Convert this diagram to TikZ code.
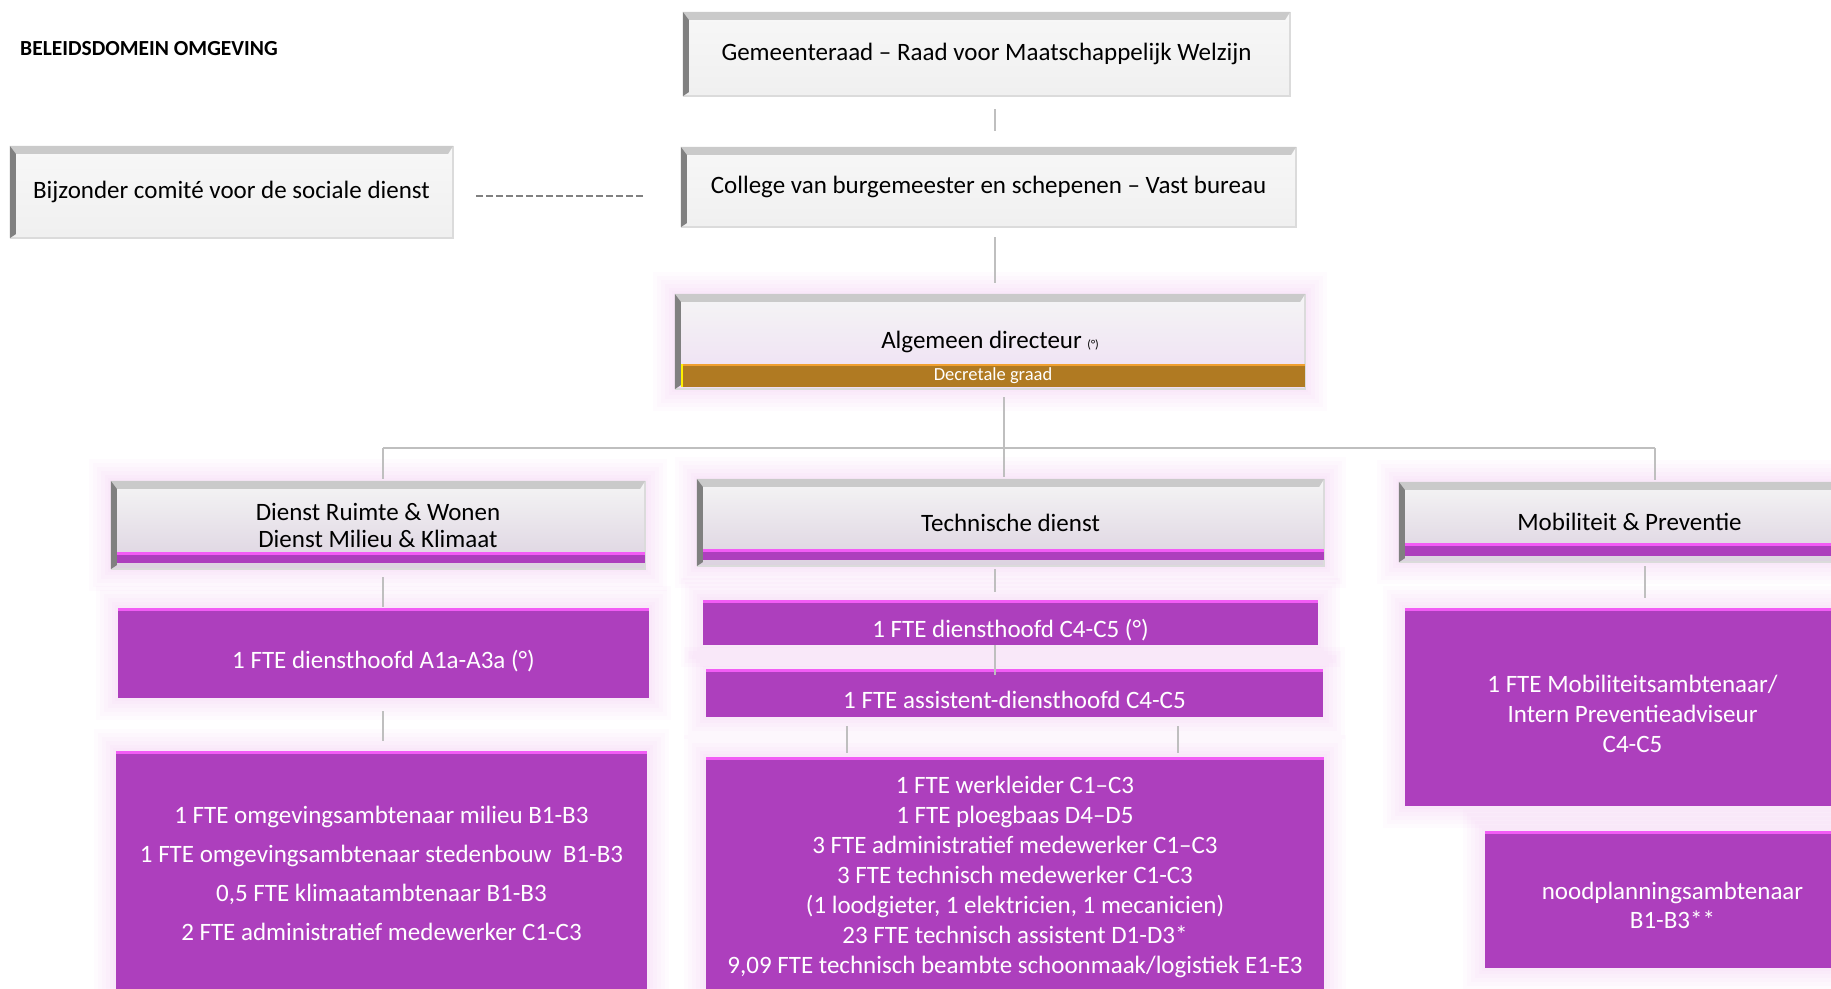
\documentclass[tikz,border=0pt]{standalone}
\usepackage{fontspec}
\setmainfont{Carlito}
\usetikzlibrary{calc}
\pgfdeclarelayer{bg}
\pgfsetlayers{bg,main}
\definecolor{purp}{HTML}{AD3FBD}
\definecolor{purpedge}{HTML}{F25CF5}
\definecolor{glowc}{HTML}{E9A6F2}
\definecolor{gold}{HTML}{B07A22}
\definecolor{goldedge}{HTML}{F0A030}
\definecolor{bevtop}{HTML}{CACACA}
\definecolor{bevleft}{HTML}{808080}
\definecolor{connc}{HTML}{BFBFBF}
\definecolor{deptbot}{HTML}{DCD2E0}
\newcommand\lowered[1]{\raisebox{-9pt}[\height][\depth]{\begin{tabular}{@{}c@{}}#1\end{tabular}}}
\tikzset{
 gbox/.style={rectangle, inner sep=0pt, top color=white!97!black, bottom color=white!94!black, font=\fontsize{25}{28}\selectfont, align=center},
 dbox/.style={rectangle, inner sep=0pt, top color=white!96!black, bottom color=deptbot, font=\fontsize{25}{27}\selectfont, align=center},
 pbox/.style={rectangle, inner sep=0pt, fill=purp, text=white, font=\fontsize{25}{30}\selectfont, align=center},
 goldbar/.style={rectangle, inner sep=0pt, fill=gold, text=white, font=\fontsize{18.5}{20}\selectfont},
 conn/.style={draw=connc, line width=1.5pt},
 dashconn/.style={draw=bevleft, line width=1.5pt, dash pattern=on 7pt off 3pt},
}
\newcommand\bev[1]{%
  \draw[line width=1.5pt, white!86!black] (#1.north east) -- (#1.south east) -- (#1.south west);
  \fill[bevtop] (#1.north west) -- (#1.north east) -- ([shift={(-5,8)}]#1.north east) -- ([shift={(6,8)}]#1.north west) -- cycle;
  \fill[bevleft] (#1.north west) -- ([shift={(6,8)}]#1.north west) -- ([shift={(6,-4)}]#1.south west) -- (#1.south west) -- cycle;
}
\newcommand\deptbar[3]{%
  \fill[purp] ([shift={(6,-#2)}]#1.south west) rectangle ([shift={(0,-#3)}]#1.south east);
  \fill[purpedge] ([shift={(6,-#2)}]#1.south west) rectangle ([shift={(0,-#2+3)}]#1.south east);
}
\newcommand\ptop[1]{%
  \fill[purpedge] (#1.north west) rectangle ([shift={(0,3)}]#1.north east);
}
\newcommand\glowbox[1]{%
  \foreach \g in {22,18,14,10,6,3}{\fill[glowc, opacity=0.045] ([shift={(-\g,-\g)}]#1.north west) rectangle ([shift={(\g,\g)}]#1.south east);}%
}
\begin{document}
\begin{tikzpicture}[x=1pt,y=-1pt]
\useasboundingbox (0,0) rectangle (1831,988);

% title
\node[font=\bfseries\fontsize{21.5}{24}\selectfont, anchor=west, inner sep=0pt] (title) at (20,49) {BELEIDSDOMEIN OMGEVING};

% top levels
\node[gbox, minimum width=607pt, minimum height=84pt] (gem) at (986.5,54) {Gemeenteraad – Raad voor Maatschappelijk Welzijn};
\bev{gem}
\node[gbox, minimum width=615pt, minimum height=80pt] (col) at (988.5,187) {College van burgemeester en schepenen – Vast bureau};
\bev{col}
\node[gbox, minimum width=443pt, minimum height=92pt] (bij) at (231.5,192) {Bijzonder comité voor de sociale dienst};
\bev{bij}

% algemeen directeur
\node[dbox, bottom color={rgb,255:red,238;green,222;blue,243}, minimum width=630pt, minimum height=95pt] (alg) at (990,341.5) {Algemeen directeur {\fontsize{12}{14}\selectfont(°)}};
\bev{alg}
\node[goldbar, minimum width=624pt, minimum height=23pt] (dg) at (993,375.5) {Decretale graad};
\fill[goldedge] (dg.north west) rectangle ([shift={(0,2)}]dg.north east);
\fill[yellow] (dg.north west) rectangle ([shift={(2,0)}]dg.south west);

% departments
\node[dbox, minimum width=534pt, minimum height=88pt] (ruimte) at (378,525) {Dienst Ruimte \& Wonen\\Dienst Milieu \& Klimaat};
\bev{ruimte}\deptbar{ruimte}{17}{6}
\node[dbox, minimum width=627pt, minimum height=87pt] (tech) at (1010.5,522.5) {Technische dienst};
\bev{tech}\deptbar{tech}{17}{6}
\node[dbox, minimum width=461pt, minimum height=80pt] (mob) at (1629.5,522) {Mobiliteit \& Preventie};
\bev{mob}\deptbar{mob}{19}{6}

% purple boxes
\node[pbox, minimum width=531pt, minimum height=90pt] (r1) at (383.5,653) {\lowered{1 FTE diensthoofd A1a-A3a (°)}};
\node[pbox, font=\fontsize{25}{39}\selectfont, minimum width=531pt, minimum height=244pt] (r2) at (381.5,873) {1 FTE omgevingsambtenaar milieu B1-B3\\1 FTE omgevingsambtenaar stedenbouw\ \ B1-B3\\0,5 FTE klimaatambtenaar B1-B3\\2 FTE administratief medewerker C1-C3};
\node[pbox, minimum width=615pt, minimum height=45pt] (t1) at (1010.5,622.5) {\lowered{1 FTE diensthoofd C4-C5 (°)}};
\node[pbox, minimum width=617pt, minimum height=48pt] (t2) at (1014.5,693) {\lowered{1 FTE assistent-diensthoofd C4-C5}};
\node[pbox, minimum width=618pt, minimum height=239pt] (t3) at (1015,876.5) {1 FTE werkleider C1–C3\\1 FTE ploegbaas D4–D5\\3 FTE administratief medewerker C1–C3\\3 FTE technisch medewerker C1-C3\\(1 loodgieter, 1 elektricien, 1 mecanicien)\\23 FTE technisch assistent D1-D3*\\9,09 FTE technisch beambte schoonmaak/logistiek E1-E3};
\node[pbox, minimum width=455pt, minimum height=198pt] (m1) at (1632.5,707) {\lowered{1 FTE Mobiliteitsambtenaar/\\Intern Preventieadviseur\\C4-C5}};
\node[pbox, font=\fontsize{25}{29}\selectfont, minimum width=375pt, minimum height=137pt] (m2) at (1672.5,899.5) {\lowered{noodplanningsambtenaar\\B1-B3**}};
\foreach \n in {r1,r2,t1,t2,t3,m1,m2}{\ptop{\n}}

% connectors
\coordinate (busL) at (383,448);
\coordinate (busM) at (1004,448);
\coordinate (busR) at (1655,448);
\coordinate (ta) at (847,0);
\coordinate (tb) at (1178,0);
\coordinate (mx) at (1645,0);
\coordinate (gx) at (995,0);
\draw[conn, shorten <=13pt, shorten >=16pt] (gem.south -| gx) -- (col.north -| gx);
\draw[conn, shorten <=10pt, shorten >=11pt] (col.south -| gx) -- (alg.north -| gx);
\draw[dashconn, shorten <=23pt, shorten >=35pt] ([shift={(0,4)}]bij.east) -- ([shift={(0,4)}]bij.east -| col.west);
\draw[conn, shorten <=8pt] (alg.south -| busM) -- (busM);
\draw[conn] (busL) -- (busR);
\draw[conn, shorten >=2pt] (busL) -- (ruimte.north -| busL);
\draw[conn, shorten >=2pt] (busM) -- (tech.north -| busM);
\draw[conn, shorten >=2pt] (busR) -- (mob.north -| busR);
\draw[conn, shorten <=8pt, shorten >=1pt] (ruimte.south -| busL) -- (r1.north -| busL);
\draw[conn, shorten <=13pt, shorten >=10pt] (r1.south -| busL) -- (r2.north -| busL);
\draw[conn, shorten <=3pt, shorten >=8pt] (tech.south -| gx) -- (t1.north -| gx);
\draw[conn, shorten >=-6pt] (t1.south -| gx) -- (t2.north -| gx);
\draw[conn, shorten <=9pt, shorten >=4pt] (t2.south -| ta) -- (t3.north -| ta);
\draw[conn, shorten <=9pt, shorten >=4pt] (t2.south -| tb) -- (t3.north -| tb);
\draw[conn, shorten <=4pt, shorten >=10pt] (mob.south -| mx) -- (m1.north -| mx);

\begin{pgfonlayer}{bg}
\fill[white] (0,0) rectangle (1831,988);
\foreach \n in {alg,ruimte,tech,mob,r1,r2,t1,t2,t3,m1,m2}{\glowbox{\n}}
\end{pgfonlayer}
\end{tikzpicture}
\end{document}
